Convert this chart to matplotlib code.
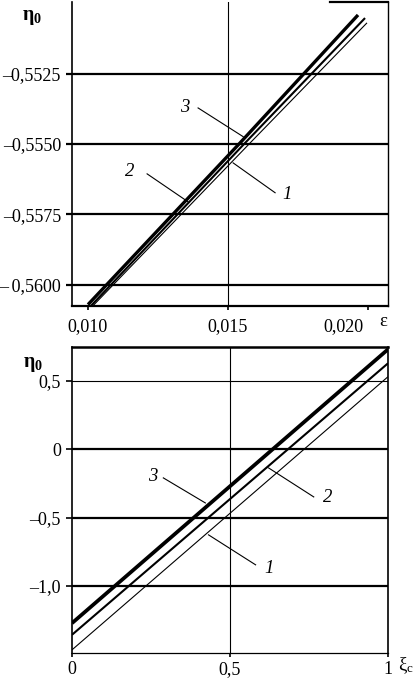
import numpy as np
import matplotlib
matplotlib.use("Agg")
import matplotlib.pyplot as plt
from matplotlib.transforms import ScaledTranslation

plt.rcParams['font.family'] = ['Liberation Serif', 'DejaVu Serif']
plt.rcParams['mathtext.fontset'] = 'custom'
plt.rcParams['mathtext.rm'] = 'Liberation Serif'

# --- top panel: eta0 vs epsilon ---
eps_1 = [0.01018, 0.01579, 0.01996]
eta_1 = [-0.56074, -0.55496, -0.55070]
eps_2 = [0.01011, 0.01561, 0.01989]
eta_2 = [-0.56074, -0.55496, -0.55053]
eps_3 = [0.01000, 0.01543, 0.01964]
eta_3 = [-0.56070, -0.55496, -0.55042]

top_yticks = [-0.5525, -0.5550, -0.5575, -0.5600]
top_yticklabels = ['\u20130,5525', '\u20130,5550', '\u20130,5575', '\u2013\u20090,5600']
top_xticks = [0.010, 0.015, 0.020]
top_xticklabels = ['0,010', '0,015', '0,020']

# pointer lines (start, end) and label positions
top_labels = ['1', '2', '3']
top_label_xy = [(0.01711, -0.55680), (0.01150, -0.55599), (0.01346, -0.55372)]
top_ptr = [((0.01518, -0.55567), (0.01668, -0.55673)),
           ((0.01211, -0.55606), (0.01357, -0.55705)),
           ((0.01393, -0.55372), (0.01554, -0.55474))]

# --- bottom panel: eta0 vs xi_c ---
xi = [0.0, 1.0]
eta_b1 = [-1.466, 0.529]
eta_b2 = [-1.356, 0.627]
eta_b3 = [-1.271, 0.729]

bot_yticks = [0.5, 0.0, -0.5, -1.0]
bot_yticklabels = ['0,5', '0', '\u20130,5', '\u20131,0']
bot_xticks = [0.0, 0.5, 1.0]
bot_xticklabels = ['0', '0,5', '1']

bot_labels = ['1', '2', '3']
bot_label_xy = [(0.625, -0.874), (0.81, -0.356), (0.254, -0.203)]
bot_ptr = [((0.432, -0.626), (0.581, -0.845)),
           ((0.622, -0.137), (0.765, -0.349)),
           ((0.289, -0.210), (0.422, -0.393))]

fs = 13.5
tfs = 13
lw_lines = [0.8, 1.5, 2.4]

fig = plt.figure(figsize=(4.19, 6.78), dpi=100)
ax1 = fig.add_axes([72 / 419, 1 - 306 / 678, 316 / 419, 304 / 678])
ax2 = fig.add_axes([72 / 419, 1 - 653 / 678, 316 / 419, 306 / 678])

# top
for x, y, lw in zip([eps_1, eps_2, eps_3], [eta_1, eta_2, eta_3], lw_lines):
    ax1.plot(x, y, color='black', lw=lw, solid_capstyle='butt')
for yv in top_yticks:
    ax1.axhline(yv, color='black', lw=1.6)
ax1.axvline(0.015, color='black', lw=0.8)
for (p0, p1) in top_ptr:
    ax1.plot([p0[0], p1[0]], [p0[1], p1[1]], color='black', lw=0.8)
for lab, (tx, ty) in zip(top_labels, top_label_xy):
    ax1.text(tx, ty, lab, fontsize=fs, style='italic', ha='center', va='center')

ax1.set_xlim(0.009429, 0.02071)
ax1.set_ylim(-0.56075, -0.54996)
ax1.set_yticks(top_yticks)
ax1.set_yticklabels(top_yticklabels, fontsize=tfs)
ax1.set_xticks(top_xticks)
ax1.set_xticklabels(top_xticklabels, fontsize=tfs)
ax1.tick_params(axis='y', direction='out', length=4, width=1.6, pad=4)
ax1.tick_params(axis='x', direction='out', length=3, width=1.2, pad=6)
lab20 = ax1.get_xticklabels()[2]
lab20.set_transform(lab20.get_transform() + ScaledTranslation(-0.25, 0, fig.dpi_scale_trans))
ax1.spines['top'].set_visible(False)
ax1.spines['left'].set_linewidth(1.2)
ax1.spines['right'].set_linewidth(1.0)
ax1.spines['bottom'].set_linewidth(1.6)
ax1.plot([0.816, 1.0], [1.0, 1.0], color='black', lw=1.6,
         transform=ax1.transAxes, clip_on=False)
fig.text(32 / 419, 1 - 17 / 678, r'$\mathregular{\eta_0}$', fontsize=fs + 1,
         ha='center', va='center', fontweight='bold')
fig.text(383 / 419, 1 - 321 / 678, '\u03b5', fontsize=fs, ha='center', va='center')

# bottom
for y, lw in zip([eta_b1, eta_b2, eta_b3], lw_lines):
    ax2.plot(xi, y, color='black', lw=lw + (0.3 if lw > 2 else 0), solid_capstyle='butt')
for yv in bot_yticks:
    ax2.axhline(yv, color='black', lw=0.8 if yv == 0.5 else 1.6)
ax2.axvline(0.5, color='black', lw=0.8)
for (p0, p1) in bot_ptr:
    ax2.plot([p0[0], p1[0]], [p0[1], p1[1]], color='black', lw=0.8)
for lab, (tx, ty) in zip(bot_labels, bot_label_xy):
    ax2.text(tx, ty, lab, fontsize=fs, style='italic', ha='center', va='center')

ax2.set_xlim(0, 1)
ax2.set_ylim(-1.489, 0.746)
ax2.set_yticks(bot_yticks)
ax2.set_yticklabels(bot_yticklabels, fontsize=tfs)
ax2.set_xticks(bot_xticks)
ax2.set_xticklabels(bot_xticklabels, fontsize=tfs)
ax2.tick_params(axis='y', direction='out', length=4, width=1.2, pad=4)
ax2.tick_params(axis='x', direction='out', length=3, width=1.2, pad=3)
ax2.spines['top'].set_linewidth(1.8)
ax2.spines['left'].set_linewidth(1.2)
ax2.spines['right'].set_linewidth(1.2)
ax2.spines['bottom'].set_linewidth(0.9)
fig.text(33 / 419, 1 - 364 / 678, r'$\mathregular{\eta_0}$', fontsize=fs + 1,
         ha='center', va='center', fontweight='bold')
fig.text(406 / 419, 1 - 666 / 678, r'$\mathregular{\xi_c}$', fontsize=fs,
         ha='center', va='center')

fig.savefig('out.png', dpi=100)
